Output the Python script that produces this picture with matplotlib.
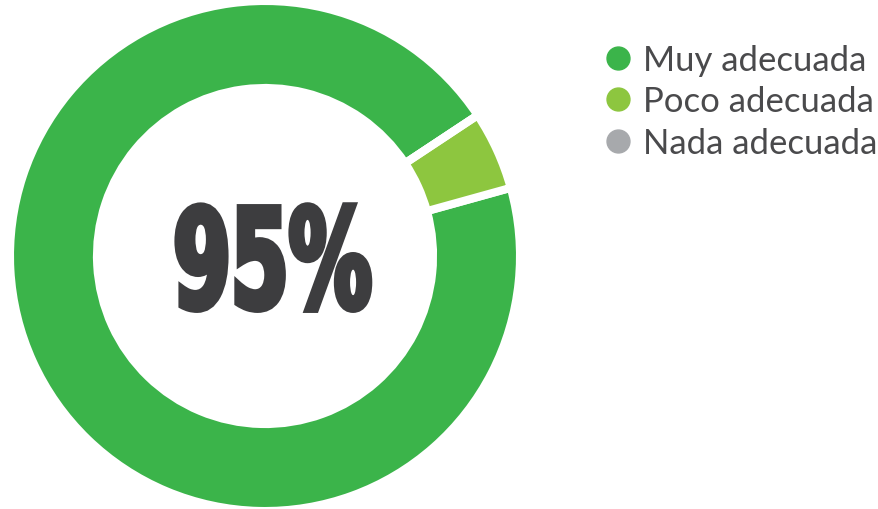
import matplotlib.pyplot as plt
from matplotlib.lines import Line2D
from matplotlib.patheffects import AbstractPathEffect
from matplotlib.transforms import Affine2D

labels = ['Muy adecuada', 'Poco adecuada', 'Nada adecuada']
values = [95, 5, 0]
colors = ['#3bb44a', '#8dc63f', '#a7a9ac']
center_label = '95%'


class Squeeze(AbstractPathEffect):
    """narrow the glyphs around x = cx (display px) and thicken them a bit"""
    def __init__(self, sx, cx, lw):
        super().__init__()
        self.sx, self.cx, self.lw = sx, cx, lw

    def draw_path(self, renderer, gc, tpath, affine, rgbFace=None):
        t = affine + Affine2D().translate(-self.cx, 0).scale(self.sx, 1).translate(self.cx, 0)
        gc0 = renderer.new_gc()
        gc0.copy_properties(gc)
        gc0.set_linewidth(self.lw)
        gc0.set_foreground(rgbFace)
        gc0.set_joinstyle('miter')
        renderer.draw_path(gc0, tpath, t, rgbFace)
        gc0.restore()


fig = plt.figure(figsize=(8.79, 5.10), dpi=100)
ax = fig.add_axes([(265 - 255) / 879, (510 - 257 - 255) / 510, 510 / 879, 510 / 510])

ax.pie(values, colors=colors, startangle=33.5, counterclock=True, radius=1.0,
       wedgeprops=dict(width=0.341, edgecolor='white', linewidth=5.8))
ax.set_xlim(-1, 1)
ax.set_ylim(-1, 1)
ax.set_aspect('equal')
ax.axis('off')

cx = 272.5
fig.text(cx / 879, 201 / 510, center_label, ha='center', va='baseline', fontsize=99.7,
         fontweight='bold', family='DejaVu Sans', color='#3d3d3f',
         path_effects=[Squeeze(0.60, cx, 4.3)])

handles = [Line2D([], [], marker='o', linestyle='none', markersize=16.5,
                  markerfacecolor=c, markeredgecolor=c) for c in colors]
fig.legend(handles, labels, loc='upper left', bbox_to_anchor=(601 / 879, 1 - 45 / 510),
           frameon=False, prop=dict(family='Lato', size=25),
           handlelength=1.0, handletextpad=0.21, labelspacing=0.27,
           borderaxespad=0, borderpad=0, labelcolor='#4a4a4c')

fig.savefig('out.png', dpi=100)
